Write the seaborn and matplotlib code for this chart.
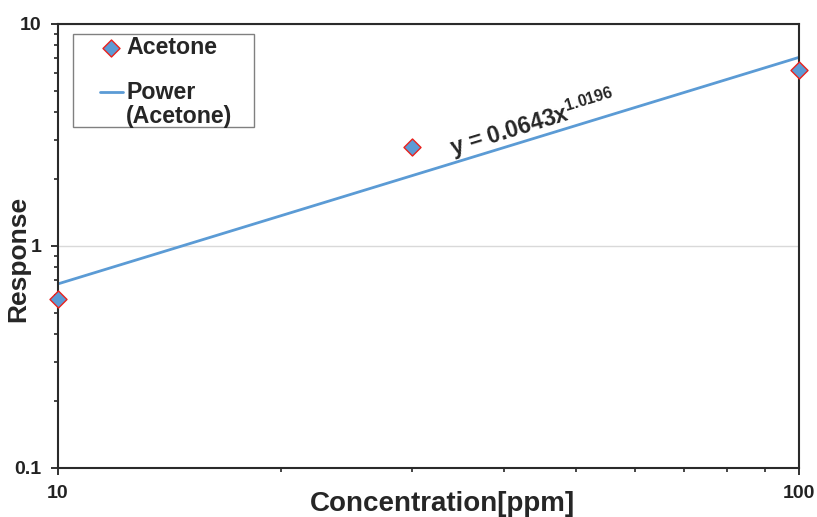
import matplotlib
matplotlib.use('Agg')
import matplotlib.pyplot as plt
import seaborn as sns
from matplotlib.ticker import LogLocator, FixedLocator, NullFormatter
from matplotlib.legend_handler import HandlerLine2D
from matplotlib.patches import Rectangle

sns.set_style('ticks')
plt.rcParams['font.family'] = ['Liberation Sans', 'DejaVu Sans']
plt.rcParams['mathtext.fontset'] = 'custom'
plt.rcParams['mathtext.rm'] = 'Liberation Sans:bold'
plt.rcParams['mathtext.it'] = 'Liberation Sans:bold'
plt.rcParams['mathtext.bf'] = 'Liberation Sans:bold'

# 数据
conc = [10, 30, 100]
response = [0.575, 2.78, 6.2]
# power trendline y = 0.0643x^1.0196, ends of the line
fit_conc = [10, 100]
fit_resp = [0.674, 7.06]

blue = '#5B9BD5'


class RaisedLine(HandlerLine2D):
    # legend line sits at the level of the first text line
    def create_artists(self, legend, orig_handle, xdescent, ydescent,
                       width, height, fontsize, trans):
        arts = super().create_artists(legend, orig_handle, xdescent, ydescent,
                                      width, height, fontsize, trans)
        for a in arts:
            a.set_ydata([y + 0.6 * fontsize for y in a.get_ydata()])
        return arts


fig = plt.figure(figsize=(8.17, 5.17), dpi=100)
ax = fig.add_axes([0.071, 0.095, 0.907, 0.859])

sns.lineplot(x=fit_conc, y=fit_resp, ax=ax, color=blue, linewidth=2,
             label='Power\n(Acetone)', zorder=2)
sns.scatterplot(x=conc, y=response, ax=ax, marker='D', s=75, color=blue,
                edgecolor='#E8221E', linewidth=1, label='Acetone', zorder=3,
                clip_on=False)

ax.set_xscale('log')
ax.set_yscale('log')
ax.set_xlim(10, 100)
ax.set_ylim(0.1, 10)

ax.xaxis.set_major_locator(FixedLocator([10, 100]))
ax.xaxis.set_minor_locator(LogLocator(base=10, subs=range(2, 10)))
ax.xaxis.set_minor_formatter(NullFormatter())
ax.set_xticklabels(['10', '100'])
ax.yaxis.set_major_locator(FixedLocator([0.1, 1, 10]))
ax.yaxis.set_minor_locator(LogLocator(base=10, subs=range(2, 10)))
ax.yaxis.set_minor_formatter(NullFormatter())
ax.set_yticklabels(['0.1', '1', '10'])

ax.tick_params(axis='both', which='major', labelsize=14, length=5, width=1.3,
               direction='out', colors='#222222')
ax.tick_params(axis='both', which='minor', length=3, width=1.2, direction='out')
ax.tick_params(axis='x', which='major', pad=7)
ax.tick_params(axis='y', which='major', pad=7)
for lab in ax.get_xticklabels() + ax.get_yticklabels():
    lab.set_fontweight('bold')

for sp in ax.spines.values():
    sp.set_linewidth(1.5)
    sp.set_color('#2a2a2a')

ax.yaxis.grid(True, which='major', color='#D9D9D9', linewidth=1)
ax.xaxis.grid(False)

ax.set_xlabel('Concentration[ppm]', fontsize=20, fontweight='bold')
ax.xaxis.set_label_coords(0.519, -0.053)
ax.set_ylabel('Response', fontsize=19, fontweight='bold')
ax.yaxis.set_label_coords(-0.037, 0.47)

ax.text(43.8, 3.55, 'y = 0.0643x$^{1.0196}$', fontsize=16.5, fontweight='bold',
        rotation=17, ha='center', va='center', rotation_mode='anchor')

# legend box
ax.add_patch(Rectangle((0.02, 0.768), 0.245, 0.21, transform=ax.transAxes,
                       facecolor='white', edgecolor='#808080', linewidth=1,
                       zorder=4))

handles, labels = ax.get_legend_handles_labels()
leg = ax.legend(handles[::-1], labels[::-1], loc='upper left',
                bbox_to_anchor=(0.056, 0.972), borderaxespad=0, borderpad=0,
                fontsize=16.7, frameon=False, handlelength=1.0,
                handletextpad=0.15, labelspacing=0.95,
                handler_map={handles[0]: RaisedLine()})
leg.set_zorder(5)
for t in leg.get_texts():
    t.set_fontweight('bold')
    t.set_linespacing(1.05)

fig.savefig('out.png', dpi=100)
